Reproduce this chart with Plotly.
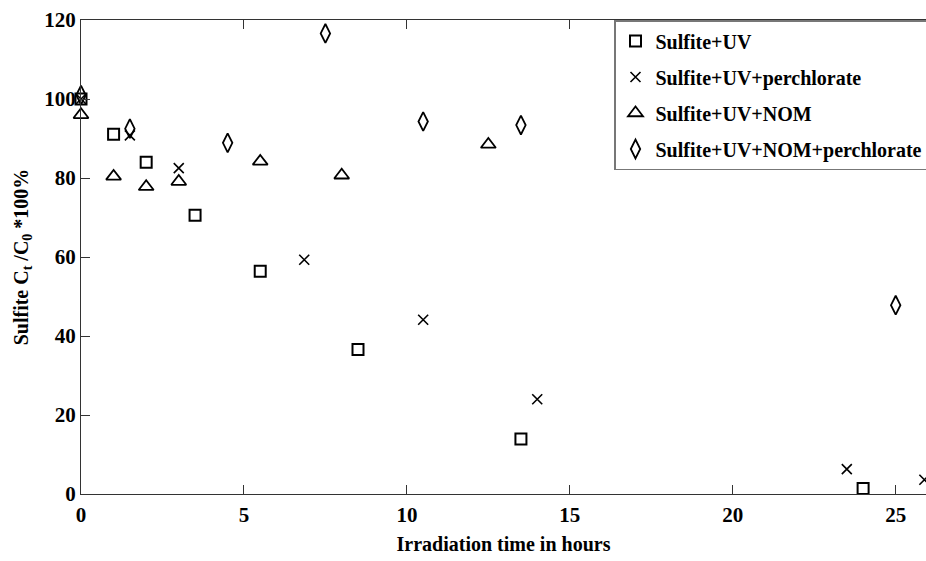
import plotly.graph_objects as go

# Data
uv_x = [0, 1, 2, 3.5, 5.5, 8.5, 13.5, 24]
uv_y = [100, 91.1, 84, 70.6, 56.4, 36.6, 13.9, 1.4]

perc_x = [0, 1.5, 3, 6.85, 10.5, 14, 23.5, 25.88]
perc_y = [100, 90.8, 82.5, 59.3, 44.1, 24, 6.3, 3.6]

nom_x = [0, 1, 2, 3, 5.5, 8, 12.5]
nom_y = [96, 80.4, 77.8, 79.1, 84.2, 80.7, 88.5]

nomp_x = [0, 1.5, 4.5, 7.5, 10.5, 13.5, 25]
nomp_y = [101, 92.5, 88.9, 116.6, 94.3, 93.4, 47.8]

names = ["Sulfite+UV", "Sulfite+UV+perchlorate", "Sulfite+UV+NOM",
         "Sulfite+UV+NOM+perchlorate"]

x_ticks = [0, 5, 10, 15, 20, 25]
y_ticks = [0, 20, 40, 60, 80, 100, 120]

FONT = "Liberation Serif"

fig = go.Figure()
series = [
    (uv_x, uv_y, names[0], "square-open", 11, 2),
    (perc_x, perc_y, names[1], "x-thin-open", 10, 1.6),
    (nom_x, nom_y, names[2], "triangle-up-open", 13, 1.8),
    (nomp_x, nomp_y, names[3], "diamond-tall-open", 13.5, 1.8),
]
for i, (xs, ys, nm, sym, sz, lw) in enumerate(series):
    fig.add_trace(go.Scatter(
        x=xs, y=ys, mode="markers", name=nm, legendgroup=f"g{i}",
        marker=dict(symbol=sym, size=sz, color="black",
                    line=dict(color="black", width=lw)),
        cliponaxis=False,
    ))

tick_style = dict(ticks="inside", ticklen=9, tickwidth=1, tickcolor="#333333",
                  showgrid=False, zeroline=False)
tickfont = dict(family=FONT, size=21, color="black", weight="bold")

fig.update_layout(
    width=926, height=561,
    margin=dict(l=81, r=0, t=20, b=67, autoexpand=False),
    plot_bgcolor="white", paper_bgcolor="white",
    font=dict(family=FONT, color="black"),
    xaxis=dict(range=[0, 25.93], tickvals=x_ticks,
               showline=True, linecolor="#333333", linewidth=1.3, mirror="ticks",
               tickfont=tickfont, ticklabelstandoff=2,
               title=dict(text="<b>Irradiation time in hours</b>",
                          font=dict(family=FONT, size=20, color="black"),
                          standoff=10),
               **tick_style),
    yaxis=dict(range=[0, 120], tickvals=y_ticks,
               showline=True, linecolor="#333333", linewidth=1.3, mirror=False,
               tickfont=tickfont,
               title=dict(text="<b>Sulfite C<sub>t</sub> /C<sub>0</sub> *100%</b>",
                          font=dict(family=FONT, size=20, color="black"),
                          standoff=10),
               **tick_style),
    yaxis2=dict(range=[0, 120], tickvals=y_ticks, overlaying="y", side="right",
                showline=False, showticklabels=False, **tick_style),
    legend=dict(x=(614 - 81) / 845, y=1.0, xanchor="left", yanchor="top",
                bgcolor="white", bordercolor="#777777", borderwidth=1.5,
                font=dict(family=FONT, size=20, color="black", weight="bold"),
                tracegroupgap=7, itemwidth=30),
    showlegend=True,
)

fig.write_html("out.html")
